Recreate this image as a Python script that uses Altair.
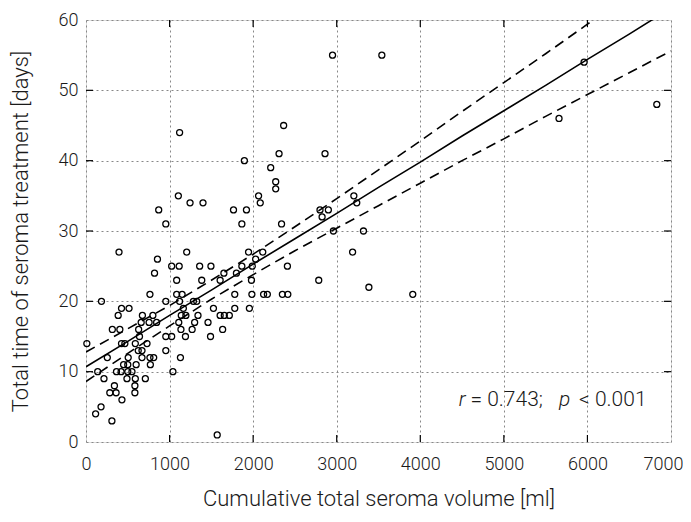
import altair as alt
import pandas as pd

# ---- data ----
vol_ml = [
    2950, 3540, 5960, 5660, 6830,
    1120, 2365, 2310, 2860, 1895, 2210, 2270, 2270,
    1105, 1245, 1400, 2065, 2085,
    870, 955, 1765, 1920, 1865, 2340,
    2800, 2825, 2900, 3205, 3240, 2960, 3320,
    395, 1205, 855, 820, 1025, 1115, 1085,
    765, 1085, 1150, 1360, 1495, 1385, 1605, 1650, 1800, 1865, 1945, 2030, 2115, 1990, 1980, 2410, 2785, 3190, 3385,
    1780, 1985, 2125, 2170, 2350, 2415, 3910,
    185, 955, 1120, 1285, 1325,
    425, 515, 385, 675, 800,
    660, 755, 845,
    630, 315, 405, 640, 1136,
    955, 1025, 1190,
    10, 425, 465, 590, 730,
    255, 505, 625, 670, 670, 765, 810, 955, 1130,
    450, 500, 600, 770,
    140, 365, 420, 500, 550, 1040,
    215, 490, 590, 710,
    340, 585, 285, 360, 585, 430, 180, 115, 310, 1570,
    1270, 1300, 1340, 1460, 1490, 1525, 1605, 1655, 1715, 1635, 1780, 1955, 1165, 1140, 1195, 1110,
]
days = [
    55, 55, 54, 46, 48,
    44, 45, 41, 41, 40, 39, 37, 36,
    35, 34, 34, 35, 34,
    33, 31, 33, 33, 31, 31,
    33, 32, 33, 35, 34, 30, 30,
    27, 27, 26, 24, 25, 25, 23,
    21, 21, 21, 25, 25, 23, 23, 24, 24, 25, 27, 26, 27, 25, 23, 25, 23, 27, 22,
    21, 21, 21, 21, 21, 21, 21,
    20, 20, 20, 20, 20,
    19, 19, 18, 18, 18,
    17, 17, 17,
    16, 16, 16, 15, 16,
    15, 15, 15,
    14, 14, 14, 14, 14,
    12, 12, 13, 13, 12, 12, 12, 13, 12,
    11, 11, 11, 11,
    10, 10, 10, 10, 10, 10,
    9, 9, 9, 9,
    8, 8, 7, 7, 7, 6, 5, 4, 3, 1,
    16, 17, 18, 17, 15, 19, 18, 18, 18, 16, 19, 19, 19, 18, 18, 17,
]

# regression line and its confidence band, read at every 500 ml
band_x = [0, 500, 1000, 1500, 2000, 2500, 3000, 3500, 4000, 4500, 5000, 5500, 6000, 6500, 7000]
fit_y = [10.7, 14.3, 18.0, 21.6, 25.3, 28.9, 32.5, 36.2, 39.8, 43.5, 47.1, 50.7, 54.4, 58.0, 61.7]
upper_y = [12.8, 16.1, 19.4, 23.0, 26.7, 30.6, 34.6, 38.7, 42.8, 47.0, 51.1, 55.2, 59.4, 63.5, 67.7]
lower_y = [8.6, 12.6, 16.5, 20.3, 23.8, 27.2, 30.4, 33.6, 36.8, 40.0, 43.1, 46.3, 49.4, 52.5, 55.6]

x_ticks = [0, 1000, 2000, 3000, 4000, 5000, 6000, 7000]
y_ticks = [0, 10, 20, 30, 40, 50, 60]

W, H = 585, 422
FONT = "Roboto"
TXT = "#1a1a1a"

pts = pd.DataFrame({"vol": vol_ml, "days": days})
band = pd.DataFrame({"vol": band_x, "fit": fit_y, "up": upper_y, "lo": lower_y})
xt = pd.DataFrame({"t": x_ticks[1:-1]})
yt = pd.DataFrame({"t": y_ticks[1:-1]})

xs = alt.Scale(domain=[0, 7000], nice=False, zero=False)
ys = alt.Scale(domain=[0, 60], nice=False, zero=False)

x_axis = alt.Axis(
    values=x_ticks, format="d", title="Cumulative total seroma volume [ml]", grid=True,
    gridColor="#888888", gridDash=[2, 3], gridWidth=1, domain=False, ticks=False,
    labelPadding=13, labelFontSize=18, labelFont=FONT, labelFontWeight=300, labelColor=TXT,
    labelOffset={"condition": {"test": "datum.value == 7000", "value": -8}, "value": 0},
    titleFontSize=22, titleFont=FONT, titleFontWeight=300, titleColor=TXT,
    titlePadding=15, labelFlush=False,
)
y_axis = alt.Axis(
    values=y_ticks, format="d", title="Total time of seroma treatment [days]", grid=True,
    gridColor="#888888", gridDash=[2, 3], gridWidth=1, domain=False, ticks=False,
    labelPadding=8, labelFontSize=18, labelFont=FONT, labelFontWeight=300, labelColor=TXT,
    titleFontSize=22, titleFont=FONT, titleFontWeight=300, titleColor=TXT,
    titlePadding=26, labelFlush=False,
)

scatter = alt.Chart(pts).mark_point(
    shape="circle", filled=False, color="black", size=36, strokeWidth=1.3, opacity=1
).encode(
    x=alt.X("vol:Q", scale=xs, axis=x_axis),
    y=alt.Y("days:Q", scale=ys, axis=y_axis),
)

base = alt.Chart(band)
fit = base.mark_line(color="black", strokeWidth=1.6, clip=True).encode(
    x=alt.X("vol:Q", scale=xs), y=alt.Y("fit:Q", scale=ys)
)
up = base.mark_line(color="black", strokeWidth=1.6, strokeDash=[10, 6], clip=True).encode(
    x=alt.X("vol:Q", scale=xs), y=alt.Y("up:Q", scale=ys)
)
lo = base.mark_line(color="black", strokeWidth=1.6, strokeDash=[10, 6], clip=True).encode(
    x=alt.X("vol:Q", scale=xs), y=alt.Y("lo:Q", scale=ys)
)

# inward ticks on all four sides
tb = alt.Chart(xt).mark_rule(color="black", strokeWidth=1.2).encode(
    x=alt.X("t:Q", scale=xs), y=alt.value(H), y2=alt.value(H - 7)
)
tt = alt.Chart(xt).mark_rule(color="black", strokeWidth=1.2).encode(
    x=alt.X("t:Q", scale=xs), y=alt.value(0), y2=alt.value(7)
)
tl = alt.Chart(yt).mark_rule(color="black", strokeWidth=1.2).encode(
    y=alt.Y("t:Q", scale=ys), x=alt.value(0), x2=alt.value(7)
)
tr = alt.Chart(yt).mark_rule(color="black", strokeWidth=1.2).encode(
    y=alt.Y("t:Q", scale=ys), x=alt.value(W), x2=alt.value(W - 7)
)

def piece(txt, xv, italic=False):
    return alt.Chart(pd.DataFrame({"a": [0]})).mark_text(
        text=txt, align="left", baseline="middle", fontSize=21, font=FONT,
        fontWeight=300, fontStyle="italic" if italic else "normal", color=TXT,
    ).encode(x=alt.datum(xv, scale=xs), y=alt.datum(6.0, scale=ys))

annot = (piece("r", 4460, True) + piece("= 0.743;", 4600) +
         piece("p", 5660, True) + piece("< 0.001", 5900))

chart = alt.layer(
    scatter, lo, up, fit, tb, tt, tl, tr, annot
).properties(
    width=W, height=H,
    autosize=alt.AutoSizeParams(type="none"),
    padding={"left": 78, "top": 12, "right": 12, "bottom": 69},
).configure_view(
    stroke="black", strokeWidth=1.5
).configure(background="white")

chart.save("out.html", embed_options={"renderer": "svg", "actions": False})
